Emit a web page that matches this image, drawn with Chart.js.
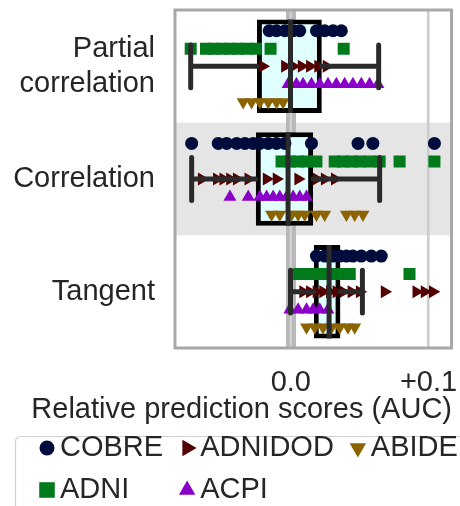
<!DOCTYPE html>
<html><head><meta charset="utf-8">
<script src="https://cdn.jsdelivr.net/npm/chart.js@4/dist/chart.umd.min.js"></script>
<style>html,body{margin:0;padding:0;background:#fff;}canvas{display:block;}</style>
</head><body>
<canvas id="c" width="460" height="506"></canvas>
<script>
// ---------- data ----------
const categories = ['Partial\ncorrelation', 'Correlation', 'Tangent'];
const xTickValues = [0, 0.1];
const xTickLabels = ['0.0', '+0.1'];
const xAxisTitle = 'Relative prediction scores (AUC)';
const seriesNames = ['COBRE', 'ADNI', 'ADNIDOD', 'ACPI', 'ABIDE'];

const COBRE = [
  [-0.0157, -0.0104, -0.0043, 0.0017, 0.0065, 0.0186, 0.0246, 0.0307, 0.0367],
  [-0.072, -0.0527, -0.0466, -0.0393, -0.0333, -0.0273, -0.0225, -0.0164, -0.0104, -0.0043, 0.015, 0.0488, 0.0596, 0.1043],
  [0.0186, 0.0246, 0.0307, 0.0355, 0.0404, 0.0451, 0.0512, 0.0585, 0.0657]
];
const ADNI = [
  [-0.0727, -0.0616, -0.0563, -0.0502, -0.0442, -0.0382, -0.0321, -0.0254, -0.0147, 0.0384],
  [-0.0067, -0.0007, 0.0053, 0.0114, 0.0186, 0.0319, 0.0379, 0.044, 0.05, 0.0572, 0.0645, 0.079, 0.1043],
  [0.006, 0.0138, 0.0198, 0.0259, 0.0319, 0.0379, 0.0428, 0.0862]
];
const ADNIDOD = [
  [-0.0205, -0.0043, 0.0017, 0.0078, 0.0138, 0.0198, 0.0259],
  [-0.0647, -0.0538, -0.0491, -0.0442, -0.0393, -0.0309, -0.0176, -0.0104, 0.0053, 0.0186, 0.0246, 0.0319],
  [0.0089, 0.0138, 0.0186, 0.0234, 0.0283, 0.0331, 0.0379, 0.044, 0.05, 0.0681, 0.0911, 0.0971, 0.1031]
];
const ACPI = [
  [-0.002, 0.0041, 0.0089, 0.015, 0.021, 0.027, 0.0331, 0.0391, 0.0451, 0.0512, 0.0572, 0.0633],
  [-0.0442, -0.0309, -0.0225, -0.0176, -0.0128, -0.008, -0.0031, 0.0017, 0.0065, 0.0114],
  [-0.0007, 0.0053, 0.0114, 0.0162, 0.021, 0.027]
];
const ABIDE = [
  [-0.0346, -0.0285, -0.0225, -0.0164, -0.0104, -0.0056],
  [-0.014, -0.008, 0.0005, 0.0053, 0.0101, 0.0186, 0.0246, 0.0404, 0.0464, 0.0524],
  [0.0114, 0.0174, 0.0234, 0.0295, 0.0355, 0.0415, 0.0464]
];

const whiskerLow  = [-0.0727, -0.072, -0.0002];
const boxQ1       = [-0.0246, -0.0254, 0.0167];
const boxMedian   = [-0.0002, -0.002, 0.0278];
const boxQ3       = [0.0225, 0.0162, 0.036];
const whiskerHigh = [0.0638, 0.0645, 0.052];

// ---------- styling / layout ----------
const X_MIN = -0.0841, X_MAX = 0.1167;
const FONT = "'Liberation Sans', Arial, sans-serif";
const FS = 29;
const TEXT = '#262626';
const seriesStyle = [
  {color: '#000c3c', pointStyle: 'circle',   rotation: 0,   radius: 6.5, legendRadius: 7.5},
  {color: '#017a1c', pointStyle: 'rect',     rotation: 0,   radius: 8.5, legendRadius: 11},
  {color: '#550000', pointStyle: 'triangle', rotation: 90,  radius: 7.5, legendRadius: 9.5},
  {color: '#8a00c8', pointStyle: 'triangle', rotation: 0,   radius: 7.5, legendRadius: 9.5},
  {color: '#8b6300', pointStyle: 'triangle', rotation: 180, radius: 7.5, legendRadius: 9.5}
];
const dodge = [-0.316, -0.156, 0, 0.16, 0.316];
const BOX_HALF = 0.415, CAP_HALF = 0.19;
const shadedCategory = 1;

const seriesData = [COBRE, ADNI, ADNIDOD, ACPI, ABIDE];
const gap = {x: null, y: null};

const pointDatasets = seriesNames.map((name, s) => {
  const st = seriesStyle[s];
  return {
    type: 'scatter', label: name, order: 2,
    data: seriesData[s].flatMap((vals, c) => vals.map(v => ({x: v, y: c + dodge[s]}))),
    pointStyle: st.pointStyle, rotation: st.rotation,
    pointRadius: st.radius, pointHoverRadius: st.radius,
    backgroundColor: st.color, borderColor: st.color, pointBorderWidth: 0, pointHoverBorderWidth: 0
  };
});

const boxDataset = {
  type: 'bar', label: 'box', indexAxis: 'y', order: 3,
  data: categories.map((c, i) => ({x: [boxQ1[i], boxQ3[i]], y: i})),
  backgroundColor: '#e0ffff', borderColor: '#000000', borderWidth: 5, borderSkipped: false,
  barPercentage: 1, categoryPercentage: 2 * BOX_HALF, grouped: false
};

const whiskerDataset = {
  type: 'scatter', label: 'whiskers', order: 1, showLine: true, spanGaps: false,
  data: categories.flatMap((c, i) => [
    {x: whiskerLow[i], y: i}, {x: boxQ1[i], y: i}, gap,
    {x: boxQ3[i], y: i}, {x: whiskerHigh[i], y: i}, gap,
    {x: whiskerLow[i], y: i - CAP_HALF}, {x: whiskerLow[i], y: i + CAP_HALF}, gap,
    {x: whiskerHigh[i], y: i - CAP_HALF}, {x: whiskerHigh[i], y: i + CAP_HALF}, gap
  ]),
  borderColor: '#2a2a2a', borderWidth: 5, borderCapStyle: 'round',
  pointRadius: 0, pointHoverRadius: 0
};

const medianDataset = {
  type: 'scatter', label: 'median', order: 1, showLine: true, spanGaps: false,
  data: categories.flatMap((c, i) => [
    {x: boxMedian[i], y: i - BOX_HALF}, {x: boxMedian[i], y: i + BOX_HALF}, gap
  ]),
  borderColor: '#2a2a2a', borderWidth: 5, borderCapStyle: 'butt',
  pointRadius: 0, pointHoverRadius: 0
};

// ---------- plugins ----------
const bandPlugin = {
  id: 'band',
  beforeDraw(chart) {
    const {ctx, chartArea: a, scales: {y}} = chart;
    const y0 = y.getPixelForValue(shadedCategory - 0.5), y1 = y.getPixelForValue(shadedCategory + 0.5);
    ctx.save();
    ctx.fillStyle = '#e5e5e5';
    ctx.fillRect(a.left, Math.min(y0, y1), a.right - a.left, Math.abs(y1 - y0));
    ctx.restore();
  },
  beforeDatasetsDraw(chart) {
    const {ctx, chartArea: a, scales: {x}} = chart;
    const px = x.getPixelForValue(0);
    ctx.save();
    ctx.strokeStyle = '#d4d4d4';
    ctx.lineWidth = 2;
    ctx.beginPath(); ctx.moveTo(px, a.top); ctx.lineTo(px, a.bottom); ctx.stroke();
    ctx.restore();
  },
  afterDatasetsDraw(chart) {
    const {ctx, chartArea: a} = chart;
    ctx.save();
    ctx.strokeStyle = '#a8a8a8';
    ctx.lineWidth = 3;
    ctx.strokeRect(a.left, a.top, a.right - a.left, a.bottom - a.top);
    ctx.restore();
  }
};

const legendPlugin = {
  id: 'mplLegend',
  afterDraw(chart) {
    const ctx = chart.ctx;
    ctx.save();
    ctx.beginPath();
    const fx = 15.5, fy = 436.5, fw = 480, fh = 100, r = 5;
    ctx.moveTo(fx + r, fy); ctx.lineTo(fx + fw - r, fy); ctx.arcTo(fx + fw, fy, fx + fw, fy + r, r);
    ctx.lineTo(fx + fw, fy + fh - r); ctx.arcTo(fx + fw, fy + fh, fx + fw - r, fy + fh, r);
    ctx.lineTo(fx + r, fy + fh); ctx.arcTo(fx, fy + fh, fx, fy + fh - r, r);
    ctx.lineTo(fx, fy + r); ctx.arcTo(fx, fy, fx + r, fy, r); ctx.closePath();
    ctx.fillStyle = '#ffffff'; ctx.fill();
    ctx.strokeStyle = '#d0d0d0'; ctx.lineWidth = 1.2; ctx.stroke();

    ctx.font = FS + 'px ' + FONT;
    ctx.textBaseline = 'middle';
    ctx.textAlign = 'left';
    const nRows = 2, nCols = Math.ceil(seriesNames.length / nRows);
    const rowY = [448, 490];
    const colMaxW = [];
    for (let c = 0; c < nCols; c++) {
      let w = 0;
      for (let r2 = 0; r2 < nRows; r2++) {
        const k = c * nRows + r2;
        if (k < seriesNames.length) w = Math.max(w, ctx.measureText(seriesNames[k]).width);
      }
      colMaxW.push(w);
    }
    let markerX = 47;
    for (let c = 0; c < nCols; c++) {
      for (let r2 = 0; r2 < nRows; r2++) {
        const k = c * nRows + r2;
        if (k >= seriesNames.length) continue;
        const st = seriesStyle[k];
        ctx.fillStyle = st.color;
        if (Chart.helpers && Chart.helpers.drawPoint) {
          Chart.helpers.drawPoint(ctx, {pointStyle: st.pointStyle, rotation: st.rotation, radius: st.legendRadius, borderWidth: 0}, markerX, rowY[r2]);
        } else {
          ctx.beginPath(); ctx.arc(markerX, rowY[r2], 7, 0, Math.PI * 2); ctx.fill();
        }
        ctx.fillStyle = TEXT;
        ctx.fillText(seriesNames[k], markerX + 13, rowY[r2]);
      }
      markerX = markerX + 13 + colMaxW[c] + 24;
    }
    ctx.restore();
  }
};

const noScalePadding = s => { s.paddingLeft = 0; s.paddingRight = 0; s.paddingTop = 0; s.paddingBottom = 0; };

// ---------- chart ----------
new Chart(document.getElementById('c'), {
  type: 'scatter',
  data: {datasets: [boxDataset, ...pointDatasets, whiskerDataset, medianDataset]},
  options: {
    responsive: false, animation: false, devicePixelRatio: 1,
    events: [],
    layout: {padding: {left: 10, right: 8, top: 10, bottom: 78.2}},
    plugins: {
      legend: {display: false}, tooltip: {enabled: false},
      title: {
        display: true, position: 'bottom', align: 'end', text: xAxisTitle,
        color: TEXT, font: {size: FS, family: FONT, weight: 'normal'}, padding: {top: 0, bottom: 0}
      }
    },
    scales: {
      x: {
        type: 'linear', min: X_MIN, max: X_MAX, beginAtZero: false, offset: false,
        afterBuildTicks: s => { s.ticks = xTickValues.map(v => ({value: v})); },
        afterFit: s => { s.height = 45; noScalePadding(s); },
        ticks: {
          padding: 17.5, color: TEXT, font: {size: FS, family: FONT}, maxRotation: 0,
          callback: (v, i) => xTickLabels[i]
        },
        grid: {
          drawTicks: false,
          color: c => (c.tick && c.tick.value === 0) ? '#b8b8b8' : '#cccccc',
          lineWidth: c => (c.tick && c.tick.value === 0) ? 10 : 2.5
        },
        border: {display: false}
      },
      y: {
        type: 'linear', min: -0.5, max: 2.5, reverse: true, offset: false,
        afterBuildTicks: s => { s.ticks = categories.map((c, i) => ({value: i})); },
        afterFit: s => { s.width = 165; noScalePadding(s); },
        ticks: {
          padding: 20, color: TEXT, font: {size: FS, family: FONT},
          callback: (v, i) => categories[i].split('\n')
        },
        grid: {display: false, drawTicks: false},
        border: {display: false}
      }
    }
  },
  plugins: [bandPlugin, legendPlugin]
});
</script>
</body></html>
